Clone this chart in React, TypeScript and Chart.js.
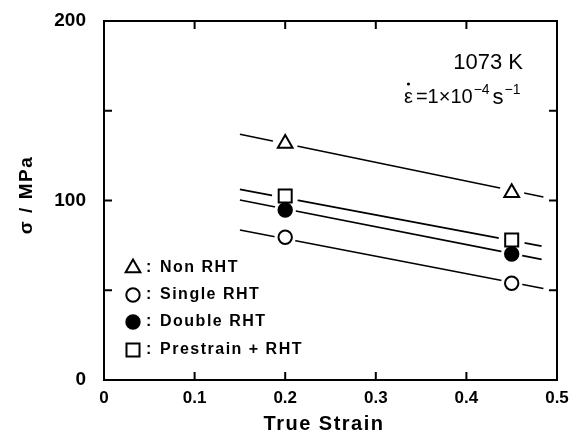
import React, { useEffect, useRef } from 'react';
import { Chart, registerables } from 'chart.js';

Chart.register(...registerables);

// ---- data ----
const xTickValues = [0, 0.1, 0.2, 0.3, 0.4, 0.5];
const xTickLabels = ['0', '0.1', '0.2', '0.3', '0.4', '0.5'];
const yLabeledValues = [0, 100, 200];
const yTickLabels = ['0', '100', '200'];

const seriesNames = ['Non RHT', 'Single RHT', 'Double RHT', 'Prestrain+RHT'];
const strainPoints = [0.2, 0.45];
const nonRHT = [131.8, 104.3];
const singleRHT = [79.5, 53.9];
const doubleRHT = [94.7, 70.2];
const prestrainRHT = [102.5, 78.0];

// fitted straight lines (start and end)
const nonRHTLineX = [0.15, 0.485];
const nonRHTLineY = [136.9, 102.0];
const singleRHTLineX = [0.15, 0.485];
const singleRHTLineY = [83.6, 51.0];
const doubleRHTLineX = [0.15, 0.483];
const doubleRHTLineY = [100.3, 67.2];
const prestrainRHTLineX = [0.15, 0.483];
const prestrainRHTLineY = [106.2, 74.6];

const FONT = "'Liberation Sans', Arial, sans-serif";

const toPts = (xs: number[], ys: number[]) => xs.map((x, i) => ({ x, y: ys[i] }));

type Style = { style: string; radius: number; fill: string };
const markerStyles: Style[] = [
  { style: 'triangle', radius: 8.5, fill: '#fff' },
  { style: 'circle', radius: 6.7, fill: '#fff' },
  { style: 'circle', radius: 6.7, fill: '#000' },
  { style: 'rect', radius: 9.2, fill: '#fff' },
];

const seriesValues = [nonRHT, singleRHT, doubleRHT, prestrainRHT];
const lineXs = [nonRHTLineX, singleRHTLineX, doubleRHTLineX, prestrainRHTLineX];
const lineYs = [nonRHTLineY, singleRHTLineY, doubleRHTLineY, prestrainRHTLineY];

function drawMarker(ctx: CanvasRenderingContext2D, s: Style, x: number, y: number) {
  ctx.save();
  ctx.beginPath();
  const r = s.radius;
  if (s.style === 'triangle') {
    ctx.moveTo(x, y - r);
    ctx.lineTo(x + r * 0.866, y + r * 0.5);
    ctx.lineTo(x - r * 0.866, y + r * 0.5);
    ctx.closePath();
  } else if (s.style === 'circle') {
    ctx.arc(x, y, r, 0, Math.PI * 2);
  } else {
    const h = r * Math.SQRT1_2;
    ctx.rect(x - h, y - h, 2 * h, 2 * h);
  }
  ctx.fillStyle = s.fill;
  ctx.fill();
  ctx.lineWidth = 2;
  ctx.strokeStyle = '#000';
  ctx.stroke();
  ctx.restore();
}

const decorPlugin = {
  id: 'decor',
  afterDraw(chart: any) {
    const ctx: CanvasRenderingContext2D = chart.ctx;
    const { left, right, top, bottom } = chart.chartArea;
    const xs = chart.scales.x;
    const ys = chart.scales.y;
    ctx.save();
    ctx.strokeStyle = '#000';
    ctx.lineWidth = 2;
    ctx.strokeRect(left, top, right - left, bottom - top);
    const tl = 8;
    ctx.beginPath();
    [0.1, 0.2, 0.3, 0.4].forEach((v) => {
      const px = xs.getPixelForValue(v);
      ctx.moveTo(px, bottom);
      ctx.lineTo(px, bottom - tl);
      ctx.moveTo(px, top);
      ctx.lineTo(px, top + tl);
    });
    [50, 100, 150].forEach((v) => {
      const py = ys.getPixelForValue(v);
      ctx.moveTo(left, py);
      ctx.lineTo(left + tl, py);
      ctx.moveTo(right, py);
      ctx.lineTo(right - tl, py);
    });
    ctx.stroke();

    // axis titles
    ctx.fillStyle = '#000';
    ctx.textAlign = 'center';
    ctx.textBaseline = 'middle';
    (ctx as any).letterSpacing = '1.5px';
    ctx.font = `bold 20px ${FONT}`;
    ctx.fillText('True Strain', 324, 424);
    ctx.save();
    ctx.translate(27, 195);
    ctx.rotate(-Math.PI / 2);
    ctx.font = `bold 19px ${FONT}`;
    ctx.fillText('σ / MPa', 0, 0);
    ctx.restore();

    // legend
    const rowY = [268, 295, 322, 350];
    ctx.font = `bold 16px ${FONT}`;
    ctx.textAlign = 'left';
    seriesNames.forEach((name, i) => {
      drawMarker(ctx, markerStyles[i], 133, rowY[i]);
      ctx.fillText(':', 146, rowY[i]);
      ctx.fillText(name.replace('+', ' + '), 160, rowY[i]);
    });

    // annotations
    (ctx as any).letterSpacing = '0px';
    ctx.textAlign = 'right';
    ctx.font = `22px ${FONT}`;
    ctx.fillText('1073 K', 523, 63);

    ctx.textAlign = 'left';
    ctx.textBaseline = 'alphabetic';
    let x = 404;
    const base = 103;
    ctx.font = `20px ${FONT}`;
    ctx.fillText('ε', x, base);
    const ew = ctx.measureText('ε').width;
    ctx.beginPath();
    ctx.arc(x + ew / 2, base - 19, 1.6, 0, Math.PI * 2);
    ctx.fill();
    x += ew + 3;
    ctx.fillText('=1×10', x, base);
    x += ctx.measureText('=1×10').width + 1;
    ctx.font = `14px ${FONT}`;
    ctx.fillText('−4', x, base - 9);
    x += ctx.measureText('−4').width + 3;
    ctx.font = `22px ${FONT}`;
    ctx.fillText('s', x, base + 1);
    x += ctx.measureText('s').width + 1;
    ctx.font = `14px ${FONT}`;
    ctx.fillText('−1', x, base - 9);
    ctx.restore();
  },
};

export default function App() {
  const ref = useRef<HTMLCanvasElement | null>(null);
  useEffect(() => {
    if (!ref.current) return;
    const datasets: any[] = [];
    seriesNames.forEach((name, i) => {
      const s = markerStyles[i];
      datasets.push({
        label: name,
        data: toPts(strainPoints, seriesValues[i]),
        showLine: false,
        pointStyle: s.style,
        pointRadius: s.radius,
        pointBackgroundColor: s.fill,
        pointBorderColor: '#000',
        pointBorderWidth: 2,
        order: 0,
      });
      datasets.push({
        label: name + ' gap',
        data: toPts(strainPoints, seriesValues[i]),
        showLine: false,
        pointStyle: 'circle',
        pointRadius: s.radius + 4,
        pointBackgroundColor: '#fff',
        pointBorderColor: '#fff',
        pointBorderWidth: 0,
        order: 1,
      });
      datasets.push({
        label: name + ' fit',
        data: toPts(lineXs[i], lineYs[i]),
        showLine: true,
        borderColor: '#000',
        borderWidth: 1.6,
        pointRadius: 0,
        fill: false,
        order: 2,
      });
    });

    const chart = new Chart(ref.current, {
      type: 'scatter',
      data: { datasets },
      options: {
        animation: false,
        responsive: false,
        events: [],
        layout: { padding: { left: 0, top: 21, right: 14, bottom: 0 } },
        plugins: { legend: { display: false }, tooltip: { enabled: false } },
        scales: {
          x: {
            type: 'linear',
            min: 0,
            max: 0.5,
            afterFit: (s: any) => { s.height = 62; },
            afterBuildTicks: (s: any) => { s.ticks = xTickValues.map((v) => ({ value: v })); },
            grid: { display: false, drawTicks: false },
            border: { display: false },
            ticks: {
              autoSkip: false,
              maxRotation: 0,
              padding: 1,
              color: '#000',
              font: { family: FONT, size: 17, weight: 'bold', lineHeight: 2 },
              callback: (v: any) => {
                const i = xTickValues.findIndex((t) => Math.abs(t - Number(v)) < 1e-6);
                return i >= 0 ? xTickLabels[i] : '';
              },
            },
          },
          y: {
            type: 'linear',
            min: 0,
            max: 200,
            afterFit: (s: any) => { s.width = 104; },
            afterBuildTicks: (s: any) => { s.ticks = yLabeledValues.map((v) => ({ value: v })); },
            grid: { display: false, drawTicks: false },
            border: { display: false },
            ticks: {
              autoSkip: false,
              padding: 18,
              color: '#000',
              font: { family: FONT, size: 19, weight: 'bold', lineHeight: 0.3 },
              callback: (v: any) => {
                const i = yLabeledValues.indexOf(Number(v));
                return i >= 0 ? yTickLabels[i] : '';
              },
            },
          },
        },
      },
      plugins: [decorPlugin],
    } as any);
    return () => chart.destroy();
  }, []);

  return (
    <div style={{ position: 'fixed', left: 0, top: 0, width: 571, height: 442, background: '#fff' }}>
      <canvas ref={ref} width={571} height={442} style={{ display: 'block' }} />
    </div>
  );
}
